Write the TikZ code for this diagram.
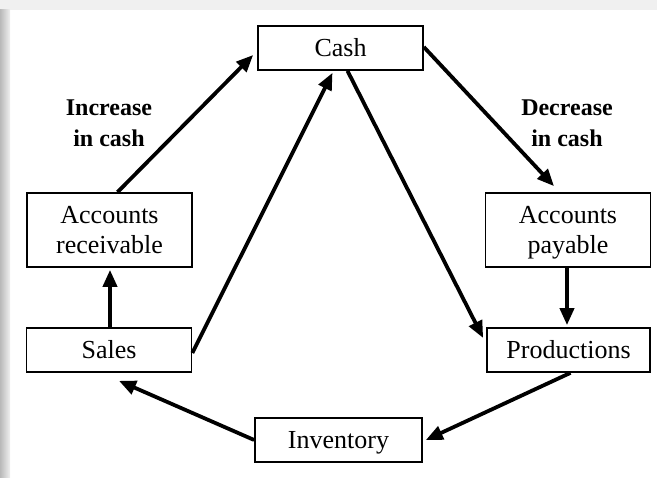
\documentclass[tikz,border=0pt]{standalone}
\usepackage{fontspec}
\setmainfont{Liberation Serif}
\usetikzlibrary{arrows.meta}
\definecolor{scan-gray}{HTML}{F0F0F0}

\begin{document}
\begin{tikzpicture}[x=1pt, y=-1pt,
    box/.style={draw, line width=1.7pt, minimum width=165pt, minimum height=44pt,
                align=center, inner sep=2pt, font=\fontsize{26}{30}\selectfont},
    flow/.style={line width=3.8pt, -{Triangle[length=17pt, width=14pt]}},
    note/.style={align=center, font=\fontsize{24}{31}\selectfont\bfseries}]
    % page and scan edges
    \fill[white] (0,0) rectangle (657,478);
    \fill[scan-gray] (0,0) rectangle (657,10);
    \shade[left color=gray!55, right color=gray!12] (0,10) rectangle (10,478);
    \useasboundingbox (0,0) rectangle (657,478);
    % boxes
    \node[box] (cash) at (340.5,48) {Cash};
    \node[box, minimum height=74pt] (recv) at (109.5,230) {Accounts\\receivable};
    \node[box, minimum height=74pt] (pay) at (568,230) {Accounts\\\smash{payable}};
    \node[box] (sales) at (109,350) {Sales};
    \node[box, minimum width=163pt] (prod) at (568.5,350) {Productions};
    \node[box, minimum width=167pt] (inv) at (338.5,440) {\raisebox{0pt}[\height][0pt]{Inventory}};
    % labels
    \node[note] (incr) at (109,123) {Increase\\in cash};
    \node[note] (decr) at (567,123) {Decrease\\in cash};
    % cash cycle
    \draw[flow] ([xshift=8pt]recv.north) -- ([xshift=-4pt, yshift=-7pt]cash.west);
    \draw[flow] ([yshift=-3pt]sales.east) -- ([xshift=-8pt, yshift=-2pt]cash.south);
    \draw[flow] ([xshift=7pt]cash.south) -- ([xshift=-3pt, yshift=12pt]prod.west);
    \draw[flow] ([yshift=1pt]cash.east) -- ([xshift=-14pt, yshift=6pt]pay.north);
    \draw[flow] ([xshift=-1pt]pay.south) -- ([xshift=-1.5pt, yshift=2pt]prod.north);
    \draw[flow] ([xshift=1pt]sales.north) -- ([xshift=0.5pt, yshift=-2pt]recv.south);
    \draw[flow] ([xshift=2pt]prod.south) -- ([xshift=3pt]inv.east);
    \draw[flow] (inv.west) -- ([xshift=10pt, yshift=-8pt]sales.south);
\end{tikzpicture}
\end{document}
